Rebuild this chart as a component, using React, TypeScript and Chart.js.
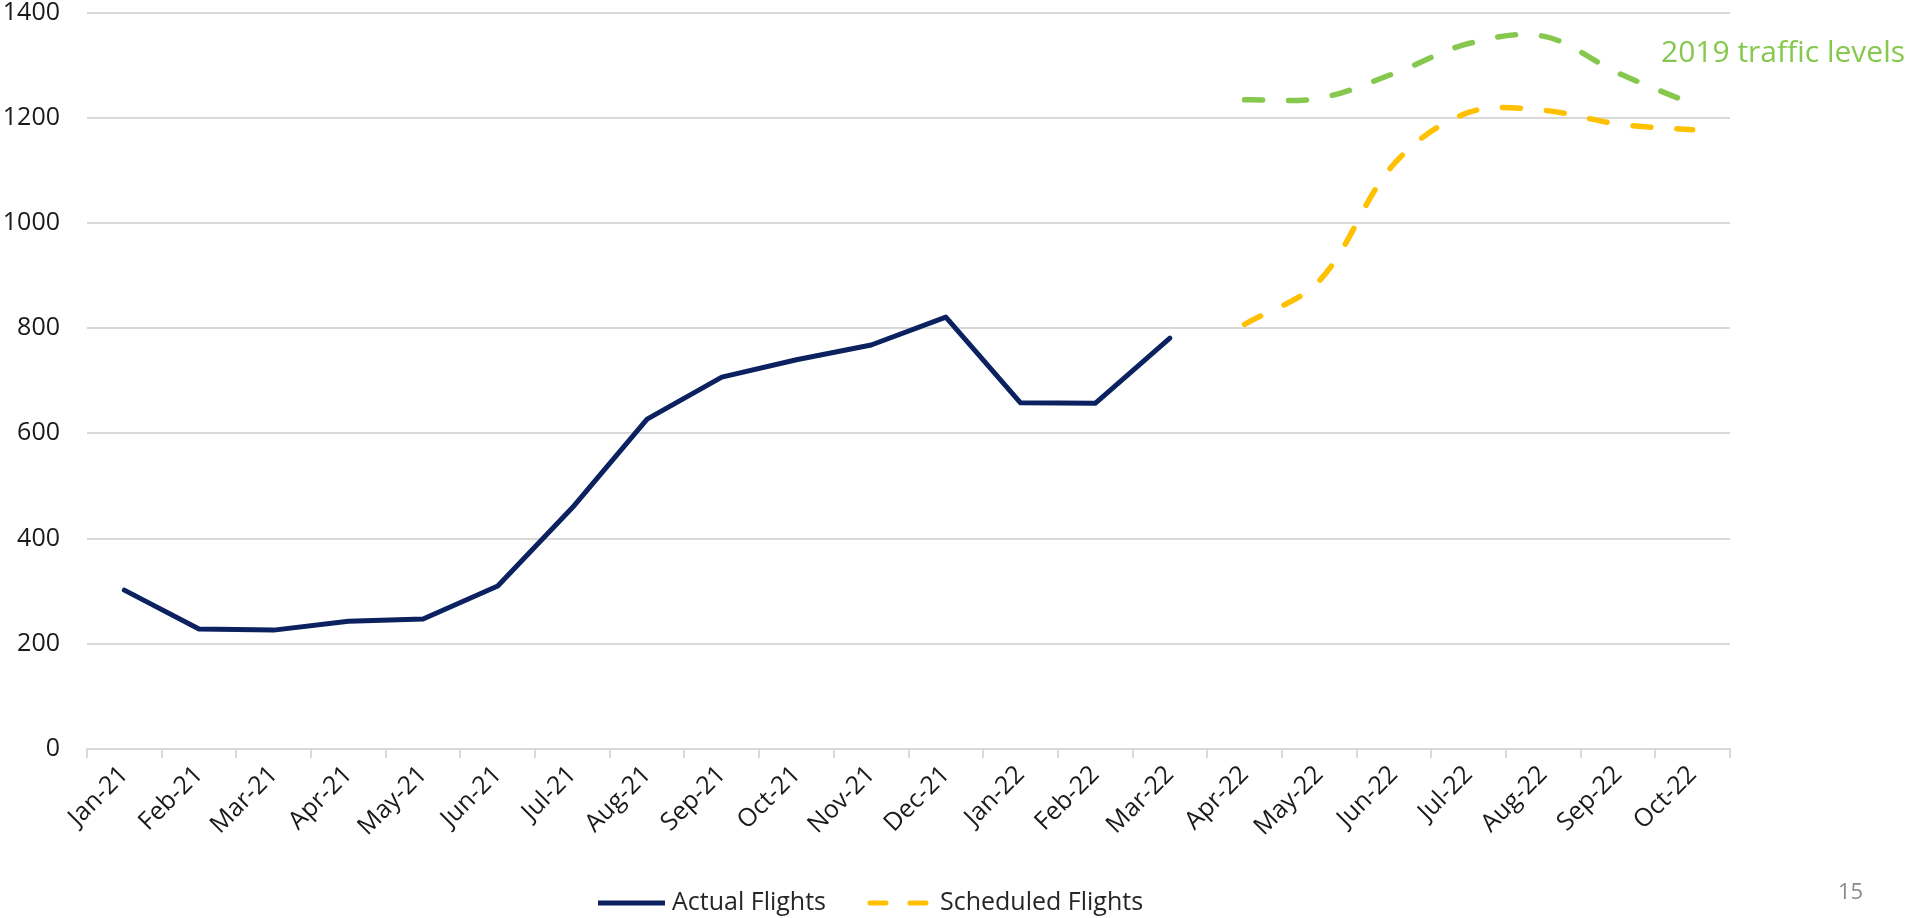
import React, { useEffect, useRef } from "react";
import { Chart, registerables } from "chart.js";

Chart.register(...registerables);

const months = [
  "Jan-21", "Feb-21", "Mar-21", "Apr-21", "May-21", "Jun-21", "Jul-21", "Aug-21",
  "Sep-21", "Oct-21", "Nov-21", "Dec-21", "Jan-22", "Feb-22", "Mar-22", "Apr-22",
  "May-22", "Jun-22", "Jul-22", "Aug-22", "Sep-22", "Oct-22",
];

const actualFlights = [
  302, 228, 226, 243, 247, 310, 459, 627, 707, 740, 768, 821, 658, 657, 781,
  null, null, null, null, null, null, null,
];

const scheduledFlights = [
  null, null, null, null, null, null, null, null, null, null, null, null, null, null, null,
  807, 890, 1112, 1210, 1214, 1188, 1177,
];

const traffic2019 = [
  null, null, null, null, null, null, null, null, null, null, null, null, null, null, null,
  1234, 1237, 1284, 1341, 1355, 1285, 1226,
];

const yMin = 0;
const yMax = 1400;
const yStep = 200;

const seriesNames = ["Actual Flights", "Scheduled Flights", "2019 traffic levels"];
const pageNumber = "15";

const FONT = "'Open Sans', 'Noto Sans', sans-serif";
const NAVY = "#0c2260";
const GOLD = "#ffc000";
const GREEN = "#86c84d";
const GRID = "#d9d9d9";
const TEXT = "#1a1a1a";

const overlayPlugin = {
  id: "overlay",
  afterDraw(chart: any) {
    const ctx = chart.ctx as CanvasRenderingContext2D;
    ctx.save();
    // legend
    let x0 = 598;
    const ly = 903;
    ctx.font = `25px ${FONT}`;
    ctx.textBaseline = "middle";
    ctx.textAlign = "left";
    chart.data.datasets.forEach((ds: any) => {
      if (!ds.inLegend) return;
      ctx.save();
      ctx.strokeStyle = ds.borderColor;
      ctx.lineWidth = 5;
      const dashed = ds.borderDash && ds.borderDash.length;
      ctx.lineCap = dashed ? "round" : "butt";
      ctx.setLineDash(dashed ? [16, 24] : []);
      ctx.beginPath();
      if (dashed) {
        ctx.moveTo(x0 + 4, ly);
        ctx.lineTo(x0 + 60, ly);
      } else {
        ctx.moveTo(x0, ly);
        ctx.lineTo(x0 + 67, ly);
      }
      ctx.stroke();
      ctx.restore();
      ctx.fillStyle = "#262626";
      const tx = x0 + 74;
      ctx.fillText(ds.label, tx, ly);
      x0 = tx + ctx.measureText(ds.label).width + 40;
    });
    // annotation for 2019 traffic levels
    const g = chart.data.datasets.find((d: any) => d.annotate);
    if (g) {
      ctx.font = `30px ${FONT}`;
      ctx.fillStyle = g.borderColor;
      ctx.textBaseline = "alphabetic";
      ctx.fillText(g.label, 1661, 62);
    }
    // page number
    ctx.font = `22px ${FONT}`;
    ctx.fillStyle = "#8a8a8a";
    ctx.textBaseline = "alphabetic";
    ctx.fillText(pageNumber, 1838, 899);
    ctx.restore();
  },
};

export default function App() {
  const canvasRef = useRef<HTMLCanvasElement | null>(null);

  useEffect(() => {
    if (!canvasRef.current) return;
    const chart = new Chart(canvasRef.current, {
      type: "line",
      data: {
        labels: months,
        datasets: [
          {
            label: seriesNames[0],
            data: actualFlights,
            borderColor: NAVY,
            backgroundColor: NAVY,
            borderWidth: 5,
            pointRadius: 0,
            tension: 0,
            borderCapStyle: "round",
            borderJoinStyle: "round",
            inLegend: true,
          } as any,
          {
            label: seriesNames[1],
            data: scheduledFlights,
            borderColor: GOLD,
            backgroundColor: GOLD,
            borderWidth: 5.5,
            pointRadius: 0,
            tension: 0.35,
            borderDash: [18, 26],
            borderCapStyle: "round",
            inLegend: true,
          } as any,
          {
            label: seriesNames[2],
            data: traffic2019,
            borderColor: GREEN,
            backgroundColor: GREEN,
            borderWidth: 5.5,
            pointRadius: 0,
            tension: 0.35,
            borderDash: [18, 26],
            borderCapStyle: "round",
            annotate: true,
          } as any,
        ],
      },
      options: {
        animation: false,
        responsive: true,
        maintainAspectRatio: false,
        layout: { padding: { left: 0, top: 12, right: 178, bottom: 0 } },
        plugins: {
          legend: { display: false },
          tooltip: { enabled: false },
        },
        scales: {
          x: {
            offset: true,
            grid: {
              display: true,
              drawOnChartArea: false,
              drawTicks: true,
              tickLength: 9,
              color: GRID,
              lineWidth: 2,
              offset: true,
            },
            border: { display: true, color: GRID, width: 2 },
            ticks: {
              maxRotation: 45,
              minRotation: 45,
              autoSkip: false,
              padding: 2,
              color: TEXT,
              font: { family: FONT, size: 25 },
            },
            afterFit: (scale: any) => {
              scale.height = 169;
            },
          },
          y: {
            min: yMin,
            max: yMax,
            grid: {
              color: GRID,
              lineWidth: 2,
              drawTicks: true,
              tickLength: 27,
              tickColor: "rgba(0,0,0,0)",
            },
            border: { display: false },
            ticks: {
              stepSize: yStep,
              padding: 0,
              color: TEXT,
              font: { family: FONT, size: 25, lineHeight: 1 },
              callback: (v: any) => String(v),
            },
            afterFit: (scale: any) => {
              scale.width = 87;
            },
          },
        },
      },
      plugins: [overlayPlugin],
    });
    return () => chart.destroy();
  }, []);

  return (
    <div style={{ position: "fixed", left: 0, top: 0, width: 1908, height: 918, background: "#fff" }}>
      <canvas ref={canvasRef} />
    </div>
  );
}
